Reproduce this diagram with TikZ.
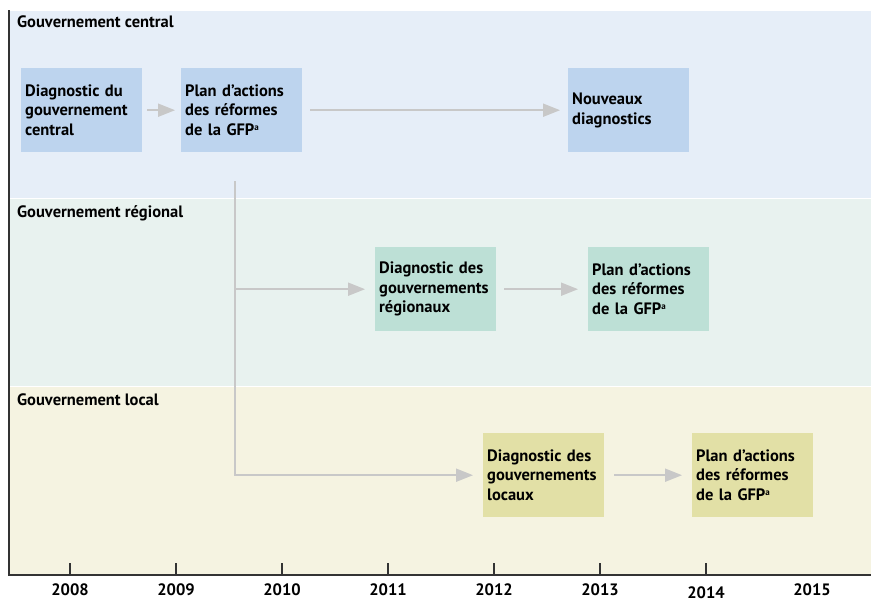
\documentclass[tikz,border=0pt]{standalone}
\usepackage{fontspec}
\setmainfont{PT Sans}
\usetikzlibrary{arrows.meta}
\definecolor{bandcentral}{HTML}{E6EEF8}
\definecolor{boxcentral}{HTML}{BDD4EE}
\definecolor{bandregion}{HTML}{E8F2EF}
\definecolor{boxregion}{HTML}{BDE0D6}
\definecolor{bandlocal}{HTML}{F5F3E1}
\definecolor{boxlocal}{HTML}{E2E0A6}
\definecolor{flow}{HTML}{C8C8C8}
\definecolor{axis}{HTML}{333333}
\newcommand{\gfp}{GFP\raisebox{5pt}{\fontsize{9}{9}\selectfont a}}
\begin{document}
\begin{tikzpicture}[x=1pt,y=-1pt,
		etape/.style={anchor=north west, minimum width=121pt, minimum height=84pt, text width=113pt, inner sep=4pt, align=left, font=\bfseries\fontsize{16.5}{19.5}\selectfont},
		titre/.style={anchor=base west, inner sep=0pt, font=\bfseries\fontsize{16.5}{19}\selectfont},
		annee/.style={inner sep=0pt, font=\bfseries\fontsize{16.5}{19}\selectfont},
		fleche/.style={draw=flow, line width=2pt, -{Triangle[length=17pt,width=13pt]}, shorten <=8pt, shorten >=8pt},
		axe/.style={draw=axis, line width=1.2pt}]
		\useasboundingbox (0,0) rectangle (871,603);
		\fill[bandcentral] (9,11) rectangle (871,197.5);
		\fill[bandregion] (9,198.5) rectangle (871,385.5);
		\fill[bandlocal] (9,386.5) rectangle (871,575);
		
		\node[titre] (tC) at (17,27) {Gouvernement central};
		\node[titre] (tR) at (17,217) {Gouvernement régional};
		\node[titre] (tL) at (17,405) {Gouvernement local};
		
		\node[etape, fill=boxcentral] (diagC) at (21,68) {Diagnostic du\\ gouvernement\\ central};
		\node[etape, fill=boxcentral] (planC) at (181,68) {Plan d’actions\\ des réformes\\ de la \gfp};
		\node[etape, fill=boxcentral] (nouv) at (568,68) {Nouveaux\\ diagnostics};
		\node[etape, fill=boxregion] (diagR) at (375,247) {Diagnostic des\\ gouvernements\\ régionaux};
		\node[etape, fill=boxregion] (planR) at (588,247) {Plan d’actions\\ des réformes\\ de la \gfp};
		\node[etape, fill=boxlocal] (diagL) at (483,433) {Diagnostic des\\ gouvernements\\ locaux};
		\node[etape, fill=boxlocal] (planL) at (692,433) {Plan d’actions\\ des réformes\\ de la \gfp};
		\coordinate (depart) at (235,173);
		
		\path[fleche, shorten <=5pt, shorten >=6pt] (diagC) -- (planC);
		\path[fleche] (planC) -- (nouv);
		\path[fleche, shorten >=10pt] (depart) |- (diagR);
		\path[fleche, shorten >=10pt] (depart) |- (diagL);
		\path[fleche, shorten >=10pt] (diagR) -- (planR);
		\path[fleche, shorten <=10pt, shorten >=10pt] (diagL) -- (planL);
		
		\draw[axe] (9,10) -- (9,575) -- (871,575);
		\foreach \i in {0,...,6}
		\draw[axe] (70+106*\i,563) -- (70+106*\i,575);
		\foreach \an/\yy [count=\i from 0] in {2008/590,2009/590,2010/590,2011/590,2012/590,2013/590,2014/593,2015/590}
		\node[annee] (a\an) at (70+106*\i,\yy) {\an};
\end{tikzpicture}
\end{document}
